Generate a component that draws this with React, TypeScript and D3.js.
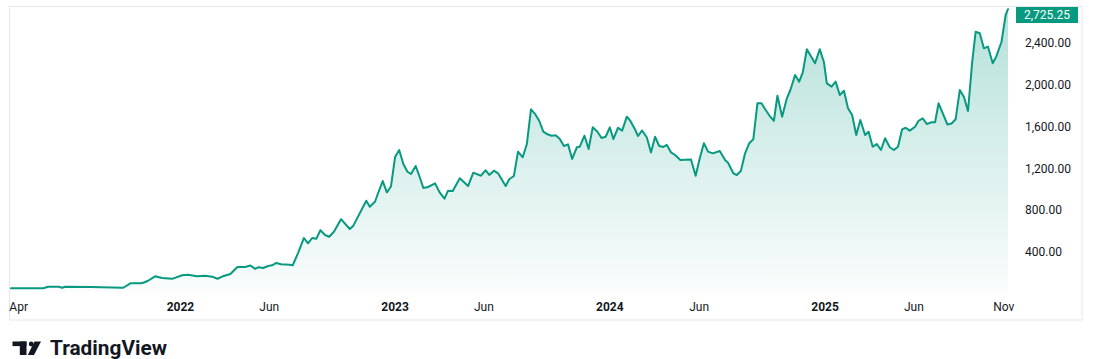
import React from "react";
import * as d3 from "d3";

const dates: string[] = [
  "2021-03-19","2021-05-13","2021-05-21","2021-06-08","2021-06-14","2021-06-19","2021-08-01","2021-09-26","2021-10-08","2021-10-25","2021-10-30","2021-11-07","2021-11-19","2021-12-01","2021-12-18",
  "2022-01-04","2022-01-14","2022-01-29","2022-02-12","2022-02-24","2022-03-05","2022-03-13","2022-03-27","2022-04-08","2022-04-21","2022-04-30","2022-05-08","2022-05-13","2022-05-22","2022-05-30","2022-06-06","2022-06-13","2022-06-21","2022-07-06","2022-07-11","2022-07-20","2022-07-30","2022-08-06","2022-08-13","2022-08-20","2022-08-27","2022-09-04","2022-09-11","2022-09-19","2022-10-01","2022-10-16","2022-10-22","2022-11-13","2022-11-19","2022-11-28","2022-12-03","2022-12-11","2022-12-18","2022-12-25",
  "2023-01-01","2023-01-08","2023-01-15","2023-01-22","2023-01-28","2023-02-05","2023-02-12","2023-02-18","2023-02-26","2023-03-10","2023-03-18","2023-03-26","2023-04-01","2023-04-09","2023-04-21","2023-05-05","2023-05-14","2023-05-27","2023-06-04","2023-06-10","2023-06-18","2023-06-25","2023-07-08","2023-07-14","2023-07-22","2023-07-29","2023-08-06","2023-08-13","2023-08-20","2023-08-27","2023-09-03","2023-09-10","2023-09-17","2023-09-24","2023-10-01","2023-10-08","2023-10-15","2023-10-22","2023-10-29","2023-11-06","2023-11-11","2023-11-19","2023-11-26","2023-12-03","2023-12-11","2023-12-18","2023-12-25",
  "2024-01-01","2024-01-07","2024-01-15","2024-01-22","2024-01-30","2024-02-05","2024-02-13","2024-02-18","2024-02-25","2024-03-04","2024-03-11","2024-03-18","2024-03-25","2024-04-01","2024-04-07","2024-04-14","2024-04-21","2024-04-30","2024-05-18","2024-05-26","2024-06-02","2024-06-09","2024-06-16","2024-06-24","2024-07-06","2024-07-15","2024-07-20","2024-07-29","2024-08-04","2024-08-11","2024-08-18","2024-08-25","2024-09-01","2024-09-08","2024-09-15","2024-09-22","2024-09-29","2024-10-06","2024-10-12","2024-10-20","2024-10-28","2024-11-03","2024-11-11","2024-11-18","2024-11-24","2024-12-01","2024-12-15","2024-12-23","2024-12-30",
  "2025-01-04","2025-01-12","2025-01-19","2025-01-26","2025-02-02","2025-02-09","2025-02-16","2025-02-23","2025-03-02","2025-03-10","2025-03-16","2025-03-23","2025-03-30","2025-04-06","2025-04-13","2025-04-21","2025-04-28","2025-05-05","2025-05-12","2025-05-18","2025-05-25","2025-06-03","2025-06-09","2025-06-16","2025-06-23","2025-07-01","2025-07-07","2025-07-13","2025-07-28","2025-08-04","2025-08-11","2025-08-18","2025-08-25","2025-09-01","2025-09-08","2025-09-14","2025-09-21","2025-09-28","2025-10-05","2025-10-13","2025-10-19","2025-10-28","2025-11-04","2025-11-08"
];

const prices: number[] = [
  55,55,70,70,60,70,67,60,102,102,108,127,169,153,145,
  179,184,169,174,166,146,167,191,258,258,273,241,255,249,268,275,297,284,280,275,392,536,485,536,528,610,565,548,596,716,622,654,893,835,885,964,1081,973,1029,
  1311,1378,1244,1170,1148,1225,1117,1014,1024,1059,969,912,989,986,1107,1033,1161,1132,1184,1139,1180,1155,1033,1098,1129,1362,1308,1435,1767,1723,1658,1553,1528,1515,1519,1483,1416,1432,1292,1404,1410,1515,1388,1595,1553,1493,1505,
  1595,1483,1591,1563,1697,1656,1574,1512,1565,1498,1354,1505,1416,1407,1426,1356,1330,1282,1287,1132,1299,1442,1362,1346,1368,1282,1256,1155,1139,1180,1346,1442,1480,1825,1825,1761,1703,1658,1898,1697,1873,1952,2096,2032,2118,2342,2208,2342,2220,
  2016,1984,2032,1904,1945,1777,1713,1522,1665,1522,1553,1410,1435,1378,1490,1404,1378,1410,1576,1591,1563,1601,1658,1681,1627,1643,1643,1825,1622,1632,1672,1952,1888,1751,2211,2510,2495,2351,2367,2208,2271,2414,2670,2725.25
];

const priceTicks: number[] = [400, 800, 1200, 1600, 2000, 2400];
const timeTickDates: string[] = ["2021-04-01","2022-01-01","2022-06-01","2023-01-01","2023-06-01","2024-01-01","2024-06-01","2025-01-01","2025-06-01","2025-11-01"];
const timeTickLabels: string[] = ["Apr","2022","Jun","2023","Jun","2024","Jun","2025","Jun","Nov"];
const timeTickBold: boolean[] = [false,true,false,true,false,true,false,true,false,false];

type Pt = { date: Date; value: number };

const W = 1093;
const H = 359;
const frame = { left: 9.5, top: 6.5, right: 1082, bottom: 320 };
const pane = { left: 11, right: 1008, top: 6.5, bottom: 292 };
const GREEN = "#089981";
const TEXT = "#131722";
const FONT = "Roboto, 'Noto Sans', sans-serif";

export default function App() {
  const parse = d3.utcParse("%Y-%m-%d");
  const data: Pt[] = dates.map((d, i) => ({ date: parse(d) as Date, value: prices[i] }));

  const x = d3
    .scaleUtc()
    .domain([data[0].date, data[data.length - 1].date])
    .range([pane.left, pane.right]);
  const y = d3.scaleLinear().domain([0, 2400]).range([294, 43.2]);

  const line = d3
    .line<Pt>()
    .x((d) => x(d.date))
    .y((d) => y(d.value));
  const area = d3
    .area<Pt>()
    .x((d) => x(d.date))
    .y0(pane.bottom)
    .y1((d) => y(d.value));

  const last = data[data.length - 1];
  const labelCy = Math.max(y(last.value), pane.top + 8.5);
  const fmt = d3.format(",.2f");

  return (
    <svg
      width={W}
      height={H}
      viewBox={`0 0 ${W} ${H}`}
      style={{ position: "absolute", left: 0, top: 0, display: "block", background: "#fff" }}
    >
      <defs>
        <linearGradient id="areaGrad" gradientUnits="userSpaceOnUse" x1={0} x2={0} y1={pane.top} y2={pane.bottom}>
          <stop offset="0" stopColor={GREEN} stopOpacity={0.3} />
          <stop offset="1" stopColor={GREEN} stopOpacity={0.02} />
        </linearGradient>
        <clipPath id="paneClip">
          <rect x={pane.left - 2} y={pane.top} width={pane.right - pane.left + 3} height={pane.bottom - pane.top} />
        </clipPath>
      </defs>
      <rect x={0} y={0} width={W} height={H} fill="#fff" />
      <rect
        x={frame.left}
        y={frame.top}
        width={frame.right - frame.left}
        height={frame.bottom - frame.top}
        fill="none"
        stroke="#e6e7ea"
        strokeWidth={1}
      />
      <g clipPath="url(#paneClip)">
        <path d={area(data) || ""} fill="url(#areaGrad)" />
        <path d={line(data) || ""} fill="none" stroke={GREEN} strokeWidth={2} strokeLinejoin="round" strokeLinecap="round" />
      </g>

      {priceTicks.map((t) => (
        <text
          key={t}
          x={1025}
          y={y(t)}
          dominantBaseline="central"
          fontFamily={FONT}
          fontSize={12}
          fill={TEXT}
        >
          {fmt(t)}
        </text>
      ))}

      <rect x={1016} y={labelCy - 8} width={62} height={16} fill={GREEN} />
      <text
        x={1047}
        y={labelCy}
        dominantBaseline="central"
        textAnchor="middle"
        fontFamily={FONT}
        fontSize={12}
        fill="#fff"
      >
        {fmt(last.value)}
      </text>

      {timeTickDates.map((d, i) => (
        <text
          key={d}
          x={x(parse(d) as Date)}
          y={307}
          dominantBaseline="central"
          textAnchor="middle"
          fontFamily={FONT}
          fontSize={12}
          fontWeight={timeTickBold[i] ? 700 : 400}
          fill={TEXT}
        >
          {timeTickLabels[i]}
        </text>
      ))}

      <g fill="#131722">
        <rect x={12.5} y={341.5} width={14} height={4.6} />
        <rect x={19.8} y={341.5} width={6.7} height={13.5} />
        <circle cx={31.2} cy={344} r={2.4} />
        <polygon points="34.5,341.5 41,341.5 34,355 27.8,355" />
      </g>
      <text
        x={50}
        y={355}
        fontFamily={FONT}
        fontSize={20.5}
        fontWeight={700}
        fill="#131722"
        textLength={117}
        lengthAdjust="spacingAndGlyphs"
      >
        TradingView
      </text>
    </svg>
  );
}
